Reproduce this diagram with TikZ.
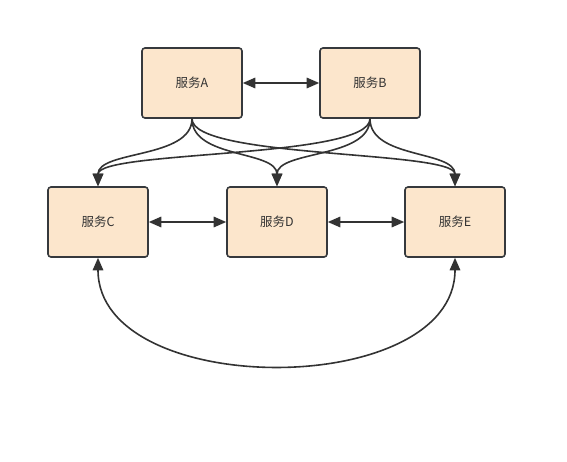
\documentclass[tikz,border=0pt]{standalone}
\usepackage{fontspec}
\setmainfont{Noto Sans CJK SC}
\usetikzlibrary{arrows.meta}
\definecolor{boxfill}{HTML}{FCE6CC}
\definecolor{boxline}{HTML}{36393D}
\definecolor{edgec}{HTML}{333333}
\begin{document}
\begin{tikzpicture}[x=1pt,y=-1pt,
  svc/.style={draw=boxline, fill=boxfill, line width=1.6pt, rounded corners=3pt,
    minimum width=100pt, minimum height=70pt, inner sep=0pt, font=\fontsize{12.5}{13}\selectfont, text=black!80},
  tip/.style={Triangle[length=12.5pt,width=10.5pt]},
  link/.style={draw=edgec, line width=1.6pt, -{Triangle[length=12.5pt,width=10.5pt]}},
  dlink/.style={draw=edgec, line width=1.6pt, {Triangle[length=12.5pt,width=10.5pt]}-{Triangle[length=12.5pt,width=10.5pt]}}]
\useasboundingbox (0,0) rectangle (567,461);
\node[svc] (A) at (192,83) {服务A};
\node[svc] (B) at (370,83) {服务B};
\node[svc] (C) at (98,222) {服务C};
\node[svc] (D) at (277,222) {服务D};
\node[svc] (E) at (455,222) {服务E};
\draw[dlink] (A.east) -- (B.west);
\draw[dlink] (C.east) -- (D.west);
\draw[dlink] (D.east) -- (E.west);
\draw[dlink] (C.south) .. controls (98,400) and (455,400) .. (E.south);
\foreach \s in {A,B}{
  \draw[link] (\s.south) .. controls ([yshift=-40pt]\s.south) and ([yshift=36pt]C.north) .. (C.north);
  \draw[link] (\s.south) .. controls ([yshift=-40pt]\s.south) and ([yshift=36pt]D.north) .. (D.north);
  \draw[link] (\s.south) .. controls ([yshift=-40pt]\s.south) and ([yshift=36pt]E.north) .. (E.north);
}
\end{tikzpicture}
\end{document}
